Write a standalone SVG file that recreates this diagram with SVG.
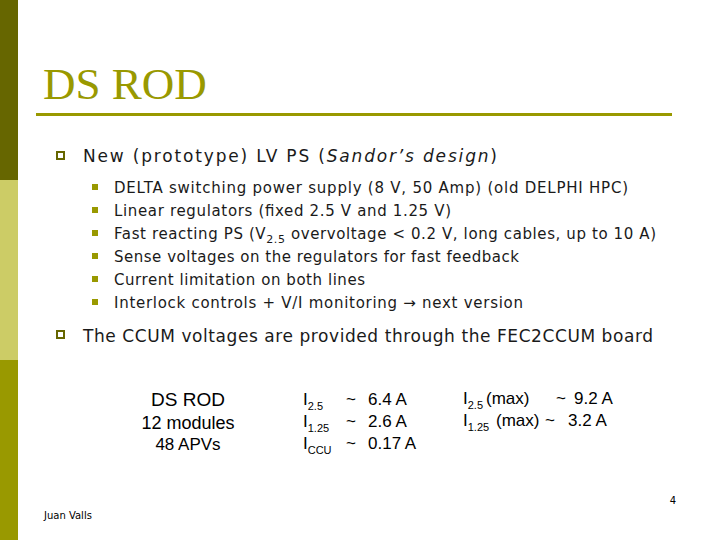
<svg xmlns="http://www.w3.org/2000/svg" width="720" height="540" viewBox="0 0 720 540">
<style>
.t{font-family:"DejaVu Sans",Verdana,sans-serif;fill:#1a1a1a}
.b{font-size:17px}
.s{font-size:15px}
.d{font-family:"Liberation Sans",Arial,sans-serif;font-size:17px;fill:#000}
.sub{font-size:11px}
</style>
<rect width="720" height="540" fill="#fff"/>
<rect x="0" y="0" width="18" height="180" fill="#666600"/>
<rect x="0" y="180" width="18" height="180" fill="#cccc66"/>
<rect x="0" y="360" width="18" height="180" fill="#999900"/>
<text x="43" y="99" font-family="Liberation Serif,serif" font-size="45" fill="#999900">DS ROD</text>
<rect x="36" y="113" width="636" height="3" fill="#999900"/>
<g id="bullets">
<rect x="57" y="152" width="7" height="7" fill="none" stroke="#666600" stroke-width="2"/>
<rect x="57" y="331" width="7" height="7" fill="none" stroke="#666600" stroke-width="2"/>
<g fill="#999900">
<rect x="92" y="184" width="6" height="6"/><rect x="92" y="207" width="6" height="6"/>
<rect x="92" y="230" width="6" height="6"/><rect x="92" y="253" width="6" height="6"/>
<rect x="92" y="276" width="6" height="6"/><rect x="92" y="299" width="6" height="6"/>
</g>
</g>
<g id="text">
<text class="t b" x="83" y="162" textLength="414" lengthAdjust="spacing">New (prototype) LV PS (<tspan font-style="italic">Sandor’s design</tspan>)</text>
<text class="t s" x="114" y="193" textLength="514" lengthAdjust="spacing">DELTA switching power supply (8 V, 50 Amp) (old DELPHI HPC)</text>
<text class="t s" x="114" y="216" textLength="337" lengthAdjust="spacing">Linear regulators (fixed 2.5 V and 1.25 V)</text>
<text class="t s" x="114" y="239" textLength="542" lengthAdjust="spacing">Fast reacting PS (V<tspan class="sub" dy="4">2.5</tspan><tspan dy="-4"> overvoltage &lt; 0.2 V, long cables, up to 10 A)</tspan></text>
<text class="t s" x="114" y="262" textLength="405" lengthAdjust="spacing">Sense voltages on the regulators for fast feedback</text>
<text class="t s" x="114" y="285" textLength="251" lengthAdjust="spacing">Current limitation on both lines</text>
<text class="t s" x="114" y="308" textLength="409" lengthAdjust="spacing">Interlock controls + V/I monitoring → next version</text>
<text class="t b" x="83" y="342" textLength="570" lengthAdjust="spacing">The CCUM voltages are provided through the FEC2CCUM board</text>
</g>
<g id="table" class="d">
<text x="188" y="406" text-anchor="middle" font-size="19">DS ROD</text>
<text x="188" y="429" text-anchor="middle" font-size="18">12 modules</text>
<text x="188" y="450" text-anchor="middle" font-size="17">48 APVs</text>
<text x="303" y="405">I<tspan class="sub" dy="5">2.5</tspan><tspan x="346" dy="-5">~</tspan><tspan x="368">6.4 A</tspan></text>
<text x="303" y="427">I<tspan class="sub" dy="5">1.25</tspan><tspan x="346" dy="-5">~</tspan><tspan x="368">2.6 A</tspan></text>
<text x="303" y="449">I<tspan class="sub" dy="5">CCU</tspan><tspan x="346" dy="-5">~</tspan><tspan x="368">0.17 A</tspan></text>
<text x="463" y="404">I<tspan class="sub" dy="5">2.5</tspan><tspan x="486" dy="-5">(max)</tspan><tspan x="556">~</tspan><tspan x="574">9.2 A</tspan></text>
<text x="463" y="426">I<tspan class="sub" dy="5">1.25</tspan><tspan x="496" dy="-5">(max)</tspan><tspan x="545">~</tspan><tspan x="568">3.2 A</tspan></text>
</g>
<text x="44" y="519" font-family="DejaVu Sans,sans-serif" font-size="10" fill="#000">Juan Valls</text>
<text x="676" y="504" text-anchor="end" font-family="DejaVu Sans,sans-serif" font-size="10" fill="#000">4</text>
</svg>
